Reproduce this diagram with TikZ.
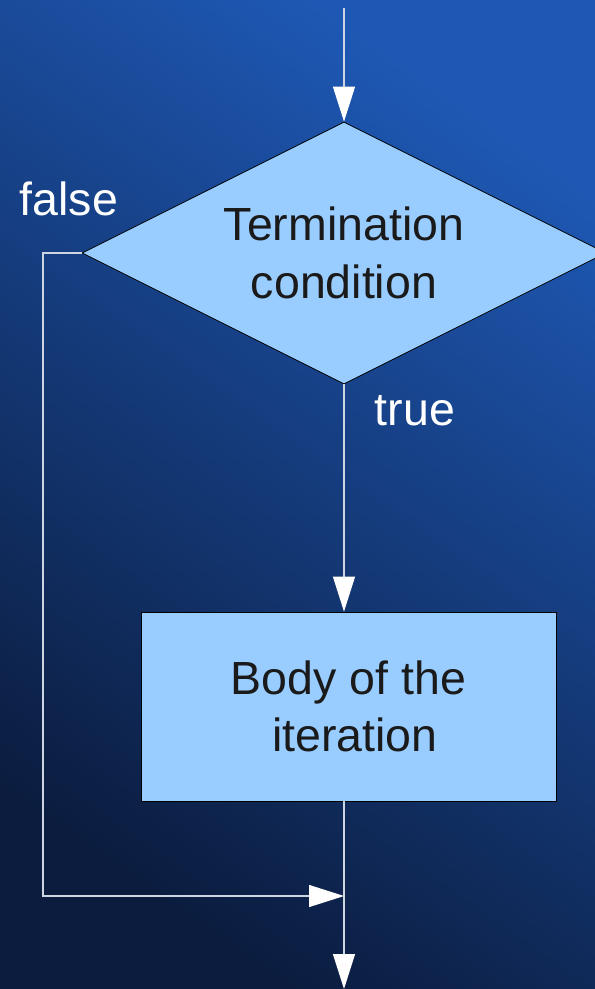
\documentclass[tikz,border=0pt]{standalone}
\usepackage{fontspec}
\setmainfont{Liberation Sans}
\usetikzlibrary{shapes.geometric,arrows.meta,calc}
\definecolor{bgdark}{RGB}{11,28,62}
\definecolor{bgbright}{RGB}{30,88,180}
\definecolor{shapefill}{RGB}{153,204,255}
\definecolor{linecol}{RGB}{205,212,226}
\definecolor{textdark}{RGB}{26,26,26}
\tikzset{
  flowshape/.style={fill=shapefill, draw=black, line width=0.8pt, text=textdark,
    font=\fontsize{46.5}{57.5}\selectfont, align=center, inner sep=0pt},
  conn/.style={draw=linecol, line width=1.2pt,
    -{Triangle[length=35pt,width=22pt,fill=white,color=white]}},
  lbl/.style={text=white, font=\fontsize{46.5}{57.5}\selectfont, inner sep=0pt, anchor=base}
}
\begin{document}
\begin{tikzpicture}[x=1pt,y=-1pt]
\useasboundingbox (0,0) rectangle (595,989);
\clip (0,0) rectangle (595,989);
\shade[shading=axis, top color=bgbright, bottom color=bgdark, shading angle=-35] (0,0) rectangle (595,989);

\node[flowshape, diamond, aspect=2, minimum width=524pt, minimum height=262pt] (cond) at (344,253) {Termination\\condition};
\node[flowshape, rectangle, minimum width=415pt, minimum height=189pt] (body) at (348.5,706.5) {Body of the\\\hspace*{13pt}iteration};

\coordinate (start) at (344,8);
\coordinate (finish) at (344,989);
\coordinate (merge) at (344,896);
\coordinate (bend) at (43,253);

\draw[conn] (start) -- (cond.north);
\draw[conn] (cond.south) -- (cond.south |- body.north);
\draw[conn] (cond.south |- body.south) -- (finish);
\draw[conn] (cond.west) -- (bend) |- (merge);

\node[lbl] (falselbl) at (69,215) {false};
\node[lbl] (truelbl) at (415,425) {true};
\end{tikzpicture}
\end{document}
